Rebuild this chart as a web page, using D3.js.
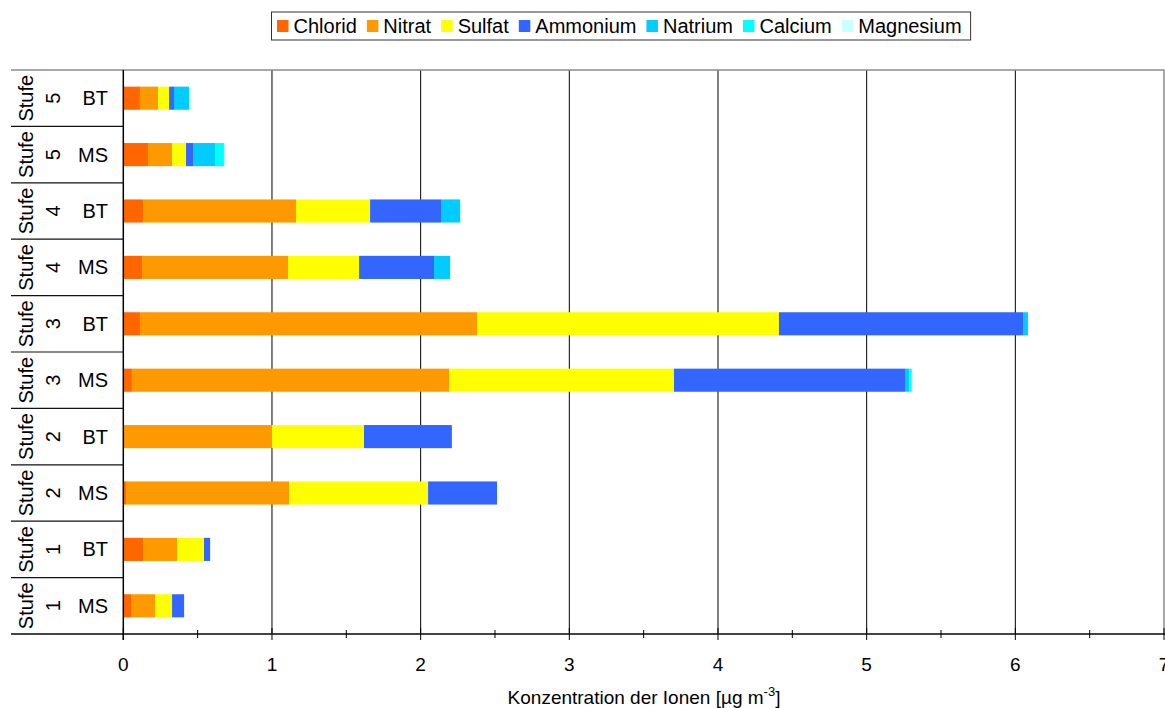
<!DOCTYPE html>
<html>
<head>
<meta charset="utf-8">
<script src="https://cdn.jsdelivr.net/npm/d3@7/dist/d3.min.js"></script>
<style>
  html, body { margin: 0; padding: 0; background: #fff; }
  svg { display: block; font-family: "Liberation Sans", Arial, sans-serif; }
</style>
</head>
<body>
<svg id="chart" width="1165" height="708"></svg>
<script>
// Sampling stage and site for each bar, listed from top to bottom
const stufen = ["5", "5", "4", "4", "3", "3", "2", "2", "1", "1"];
const orte   = ["BT", "MS", "BT", "MS", "BT", "MS", "BT", "MS", "BT", "MS"];

// Ion names and their fill colours
const ionen  = ["Chlorid", "Nitrat", "Sulfat", "Ammonium", "Natrium", "Calcium", "Magnesium"];
const farben = ["#FF6600", "#FF9900", "#FFFF00", "#3366FF", "#00CCFF", "#00FFFF", "#CCFFFF"];

// Concentrations in µg m-3 per ion, same order as the categories
const chlorid   = [0.112, 0.166, 0.133, 0.126, 0.112, 0.058, 0.000, 0.018, 0.133, 0.052];
const nitrat    = [0.122, 0.162, 1.029, 0.982, 2.268, 2.133, 1.000, 1.097, 0.229, 0.161];
const sulfat    = [0.074, 0.094, 0.498, 0.478, 2.030, 1.513, 0.619, 0.935, 0.181, 0.115];
const ammonium  = [0.033, 0.047, 0.477, 0.504, 1.642, 1.554, 0.591, 0.464, 0.041, 0.081];
const natrium   = [0.102, 0.148, 0.128, 0.108, 0.033, 0.029, 0.000, 0.000, 0.000, 0.000];
const calcium   = [0.000, 0.060, 0.000, 0.000, 0.000, 0.016, 0.000, 0.000, 0.000, 0.000];
const magnesium = [0.011, 0.011, 0.011, 0.011, 0.000, 0.000, 0.000, 0.000, 0.000, 0.000];

// Axis ticks
const xTicks = [0, 1, 2, 3, 4, 5, 6, 7];
const xMinorTicks = [0.5, 1.5, 2.5, 3.5, 4.5, 5.5, 6.5];

const serien = [chlorid, nitrat, sulfat, ammonium, natrium, calcium, magnesium];
const rows = stufen.map((s, i) => {
  const r = { key: "Stufe " + s + " " + orte[i], stufe: s, ort: orte[i] };
  ionen.forEach((ion, j) => { r[ion] = serien[j][i]; });
  return r;
});

const svg = d3.select("#chart");
const plot = { left: 123.3, right: 1164, top: 70, bottom: 634 };
const labelLeft = 11;

const x = d3.scaleLinear().domain([0, 7]).range([plot.left, plot.right]);
const y = d3.scaleBand()
  .domain(rows.map(d => d.key))
  .range([plot.top, plot.bottom])
  .paddingInner(0.59)
  .paddingOuter(0.295);
const step = y.step();
const color = d3.scaleOrdinal().domain(ionen).range(farben);

// Vertical gridlines
svg.append("g")
  .selectAll("line")
  .data(xTicks.slice(1, -1))
  .join("line")
  .attr("x1", d => x(d)).attr("x2", d => x(d))
  .attr("y1", plot.top).attr("y2", plot.bottom)
  .attr("stroke", "#000").attr("stroke-width", 1);

// Frame: top and right edges of the plot
svg.append("path")
  .attr("d", `M${labelLeft},${plot.top}H${plot.right}V${plot.bottom}`)
  .attr("fill", "none").attr("stroke", "#8c8c8c").attr("stroke-width", 1.5);

// Stacked bars
const stack = d3.stack().keys(ionen);
const layers = stack(rows);
svg.append("g")
  .selectAll("g")
  .data(layers)
  .join("g")
  .attr("fill", d => color(d.key))
  .selectAll("rect")
  .data(d => d)
  .join("rect")
  .attr("x", d => x(d[0]))
  .attr("width", d => Math.max(0, x(d[1]) - x(d[0])))
  .attr("y", d => y(d.data.key))
  .attr("height", y.bandwidth());

// Category separators in the label area
const seps = d3.range(1, rows.length).map(i => plot.top + i * step);
svg.append("g")
  .selectAll("line")
  .data(seps)
  .join("line")
  .attr("x1", labelLeft).attr("x2", plot.left)
  .attr("y1", d => d).attr("y2", d => d)
  .attr("stroke", "#111").attr("stroke-width", 1.2);

// Category labels: rotated stage label and site label
const lab = svg.append("g").selectAll("g")
  .data(rows)
  .join("g")
  .attr("transform", d => `translate(0,${y(d.key) + y.bandwidth() / 2})`);

lab.append("text")
  .attr("transform", "translate(33,0) rotate(-90)")
  .attr("text-anchor", "middle")
  .attr("font-size", 20)
  .attr("fill", "#000")
  .text("Stufe");
lab.append("text")
  .attr("transform", "translate(60,0) rotate(-90)")
  .attr("text-anchor", "middle")
  .attr("font-size", 20)
  .attr("fill", "#000")
  .text(d => d.stufe);
lab.append("text")
  .attr("x", 108)
  .attr("y", 7)
  .attr("text-anchor", "end")
  .attr("font-size", 20)
  .attr("fill", "#000")
  .text(d => d.ort);

// Bottom axis line
svg.append("line")
  .attr("x1", labelLeft).attr("x2", 1165)
  .attr("y1", plot.bottom).attr("y2", plot.bottom)
  .attr("stroke", "#444").attr("stroke-width", 1.8);

// Left axis line
svg.append("line")
  .attr("x1", plot.left).attr("x2", plot.left)
  .attr("y1", plot.top).attr("y2", plot.bottom + 6)
  .attr("stroke", "#000").attr("stroke-width", 1.5);

// Ticks crossing the x axis
svg.append("g").selectAll("line")
  .data(xTicks)
  .join("line")
  .attr("x1", d => x(d)).attr("x2", d => x(d))
  .attr("y1", plot.bottom - 6).attr("y2", plot.bottom + 6)
  .attr("stroke", "#000").attr("stroke-width", 1);
svg.append("g").selectAll("line")
  .data(xMinorTicks)
  .join("line")
  .attr("x1", d => x(d)).attr("x2", d => x(d))
  .attr("y1", plot.bottom - 4).attr("y2", plot.bottom + 4)
  .attr("stroke", "#000").attr("stroke-width", 1);

// Tick labels
svg.append("g").selectAll("text")
  .data(xTicks)
  .join("text")
  .attr("x", d => x(d))
  .attr("y", 671)
  .attr("text-anchor", "middle")
  .attr("font-size", 19)
  .attr("fill", "#000")
  .text(d => d);

// Axis title with superscript
const title = svg.append("text")
  .attr("x", 644)
  .attr("y", 704)
  .attr("text-anchor", "middle")
  .attr("font-size", 19)
  .attr("fill", "#000");
title.append("tspan").text("Konzentration der Ionen [µg m");
title.append("tspan").attr("font-size", 13).attr("dy", -8).text("-3");
title.append("tspan").attr("dy", 8).text("]");

// Legend
const legend = svg.append("g");
const box = legend.append("rect")
  .attr("y", 12).attr("height", 28)
  .attr("fill", "#fff").attr("stroke", "#333").attr("stroke-width", 1);
let cx = 277;
ionen.forEach((ion, i) => {
  legend.append("rect")
    .attr("x", cx).attr("y", 20)
    .attr("width", 11.5).attr("height", 12)
    .attr("fill", farben[i]);
  const t = legend.append("text")
    .attr("x", cx + 16.5).attr("y", 33)
    .attr("font-size", 20)
    .attr("fill", "#000")
    .text(ion);
  cx += 16.5 + t.node().getComputedTextLength() + 10;
});
box.attr("x", 271.5).attr("width", cx - 271.5 - 1);
</script>
</body>
</html>
